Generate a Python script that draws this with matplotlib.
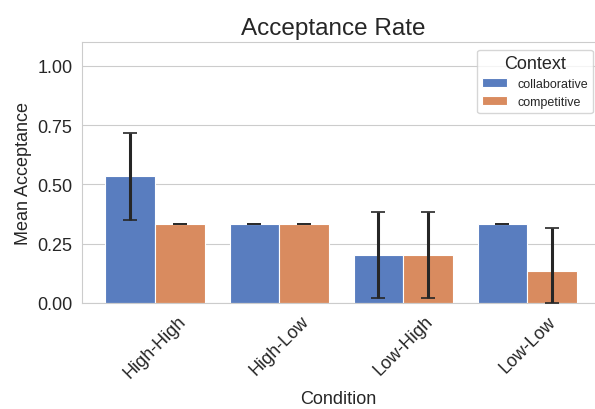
import numpy as np
import matplotlib
matplotlib.use("Agg")
import matplotlib.pyplot as plt
import seaborn as sns
import colorsys
from matplotlib.colors import to_rgb

conditions = ["High-High", "High-Low", "Low-High", "Low-Low"]
contexts = ["collaborative", "competitive"]
mean_collab = [0.533, 0.333, 0.200, 0.333]
mean_comp = [0.333, 0.333, 0.200, 0.133]
lo_collab = [0.350, 0.333, 0.020, 0.333]
hi_collab = [0.717, 0.333, 0.383, 0.333]
lo_comp = [0.333, 0.333, 0.020, 0.000]
hi_comp = [0.333, 0.333, 0.383, 0.317]

sns.set_style("whitegrid")
plt.rcParams["font.family"] = ["Liberation Sans", "DejaVu Sans"]
pal = sns.color_palette("muted")


def desat(c, s=0.75):
    h, l, sat = colorsys.rgb_to_hls(*to_rgb(c))
    return colorsys.hls_to_rgb(h, l, sat * s)


colors = [desat(pal[0]), desat(pal[1])]

fig, ax = plt.subplots(figsize=(5.95, 4.1), dpi=100)
x = np.arange(len(conditions))
w = 0.4
series = [(mean_collab, lo_collab, hi_collab), (mean_comp, lo_comp, hi_comp)]
for i, (m, lo, hi) in enumerate(series):
    m = np.array(m)
    err = [m - np.array(lo), np.array(hi) - m]
    pos = x + (i - 0.5) * w
    ax.bar(pos, m, width=w, color=colors[i], edgecolor="white", linewidth=0.8,
           label=contexts[i], zorder=2)
    ax.errorbar(pos, m, yerr=err, fmt="none", ecolor="#262626", elinewidth=2.2,
                capsize=5, capthick=1.2, zorder=3)

ax.grid(axis="x", visible=False)
ax.spines["right"].set_visible(False)
ax.set_ylim(0, 1.1)
ax.set_xlim(-0.588, 3.546)
ax.set_yticks([0, 0.25, 0.5, 0.75, 1.0])
ax.set_yticklabels(["0.00", "0.25", "0.50", "0.75", "1.00"], fontsize=13)
ax.set_xticks(x)
ax.set_xticklabels(conditions, rotation=45, fontsize=13)
ax.set_title("Acceptance Rate", fontsize=17.5, x=0.49)
ax.set_xlabel("Condition", fontsize=13, labelpad=6)
ax.set_ylabel("Mean Acceptance", fontsize=13)
ax.legend(title="Context", fontsize=9, title_fontsize=13, loc="upper right",
          bbox_to_anchor=(1.008, 0.995))
fig.subplots_adjust(left=0.138, right=1.0, top=0.895, bottom=0.259)
fig.savefig("out.png", dpi=100)
